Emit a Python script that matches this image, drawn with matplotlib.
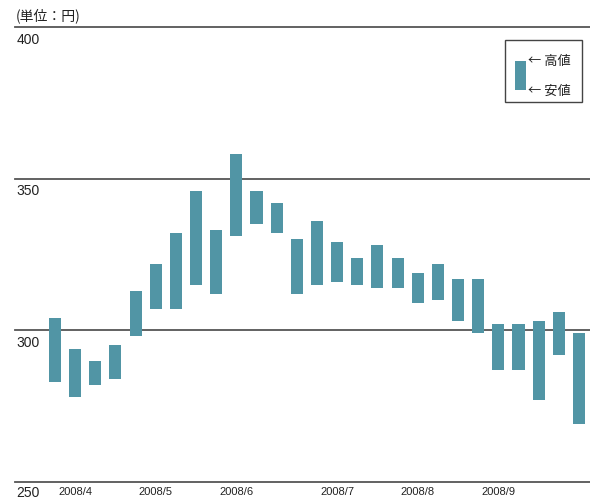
import matplotlib
matplotlib.use('Agg')
import matplotlib.pyplot as plt
from matplotlib.patches import Rectangle
import matplotlib.transforms as mtransforms

# 週ごとの高値・安値 (円)
high = [304, 294, 290, 295, 313, 322, 332, 346, 333, 358, 346, 342, 330, 336,
        329, 324, 328, 324, 319, 322, 317, 317, 302, 302, 303, 306, 299]
low = [283, 278, 282, 284, 298, 307, 307, 315, 312, 331, 335, 332, 312, 315,
       316, 315, 314, 314, 309, 310, 303, 299, 287, 287, 277, 292, 269]
month_pos = [1, 5, 9, 14, 18, 22]
month_labels = ['2008/4', '2008/5', '2008/6', '2008/7', '2008/8', '2008/9']
y_ticks = [250, 300, 350, 400]
unit_label = '(単位：円)'

bar_color = '#5195a5'
line_color = '#555555'
jp_font = ['Noto Sans CJK JP', 'DejaVu Sans']

fig = plt.figure(figsize=(5.9, 5.0), dpi=100)
ax = fig.add_axes([15 / 590, 18 / 500, 575 / 590, 455 / 500])

x = list(range(len(high)))
heights = [h - l for h, l in zip(high, low)]
ax.bar(x, heights, bottom=low, width=0.6, color=bar_color, zorder=3)

ax.set_xlim(-1.985, 26.55)
ax.set_ylim(y_ticks[0], y_ticks[-1])

for v in y_ticks:
    ax.axhline(v, color=line_color, lw=1.3, zorder=2, clip_on=False)

ax.set_xticks([])
ax.set_yticks([])
for s in ax.spines.values():
    s.set_visible(False)

# 縦軸ラベル（線の下に左寄せ）
trans_y = mtransforms.blended_transform_factory(ax.transAxes, ax.transData)
for v in y_ticks:
    off = 1.2 if v == y_ticks[0] else 1.9
    ax.text(0.002, v - off, str(v), transform=trans_y, ha='left', va='top',
            fontsize=10, family='Liberation Sans', color='#222222')

# 月ラベル
for p, lab in zip(month_pos, month_labels):
    ax.text(p, y_ticks[0] - 1.5, lab, ha='center', va='top', fontsize=8,
            family='Liberation Sans', color='#222222')

ax.text(0.002, 1.008, unit_label, transform=ax.transAxes, ha='left',
        va='bottom', fontsize=10, family=jp_font, color='#222222')

# 凡例
ax.add_patch(Rectangle((0.852, 0.835), 0.134, 0.136, transform=ax.transAxes,
                       facecolor='white', edgecolor='#444444', lw=1, zorder=5))
ax.add_patch(Rectangle((0.8696, 0.8615), 0.019, 0.0635, transform=ax.transAxes,
                       facecolor=bar_color, edgecolor='none', zorder=6))
ax.text(0.893, 0.925, '← 高値', transform=ax.transAxes, ha='left',
        va='center', fontsize=9.5, family=jp_font, color='#222222', zorder=7)
ax.text(0.893, 0.859, '← 安値', transform=ax.transAxes, ha='left',
        va='center', fontsize=9.5, family=jp_font, color='#222222', zorder=7)

fig.savefig('out.png', dpi=100)
